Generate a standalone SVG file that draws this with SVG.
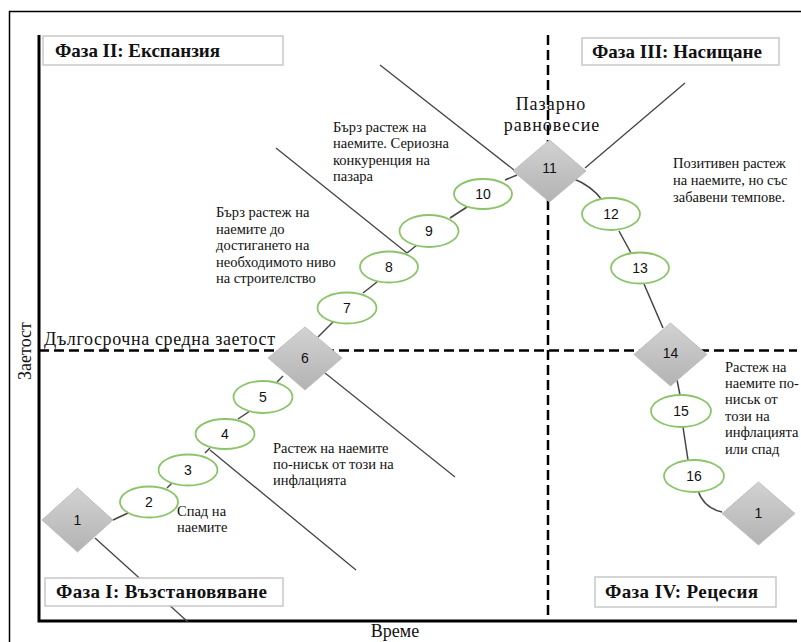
<svg xmlns="http://www.w3.org/2000/svg" width="801" height="642" viewBox="0 0 801 642">
<defs>
<linearGradient id="dg" x1="0" y1="0" x2="0" y2="1">
<stop offset="0" stop-color="#d2d2d2"/>
<stop offset="1" stop-color="#b3b3b3"/>
</linearGradient>
<style>
.frame{fill:none;stroke:#000;stroke-width:1.5}
.axis{fill:none;stroke:#000;stroke-width:3}
.dash{fill:none;stroke:#000;stroke-width:2.5;stroke-dasharray:10 5}
.ln{fill:none;stroke:#444;stroke-width:1.3}
.cn{fill:none;stroke:#444;stroke-width:1.5}
.ell{fill:#fff;stroke:#8cc46a;stroke-width:1.8}
.dia{fill:url(#dg);stroke:#c0c0c0;stroke-width:1}
.num{font-family:"Liberation Sans",Arial,sans-serif;font-size:14px;fill:#111;text-anchor:middle}
.box{fill:#fff;stroke:#c8c8c8;stroke-width:1.5}
.ph{font-family:"Liberation Serif","Times New Roman",serif;font-size:19px;font-weight:bold;fill:#111}
.note{font-family:"Liberation Serif","Times New Roman",serif;font-size:14.5px;fill:#111}
.big{font-family:"Liberation Serif","Times New Roman",serif;font-size:18px;fill:#111}
</style>
</defs>
<rect width="801" height="642" fill="#fff"/>
<path class="frame" d="M9.5,650 V11.5 H812"/>
<g id="axes">
<path class="axis" d="M39,35 V621 H797"/>
<path class="dash" d="M39,350.5 H797"/>
<path class="dash" d="M548,35 V621"/>
<text class="big" x="44" y="345" textLength="231">Дългосрочна средна заетост</text>
<text class="big" x="0" y="0" font-size="17" transform="translate(31,351) rotate(-90)" text-anchor="middle">Заетост</text>
<text class="big" x="395" y="637" font-size="16" text-anchor="middle">Време</text>
</g>
<g id="connectors">
<path class="ln" d="M380,65 L514,170"/>
<path class="ln" d="M585,168 L685,83"/>
<path class="ln" d="M276,148 L407,253"/>
<path class="ln" d="M325,373 L455,477"/>
<path class="ln" d="M210,450 L356,570"/>
<path class="ln" d="M95,538 L188,622"/>
<path class="cn" d="M113,520 L128,513"/>
<path class="cn" d="M167,488 L173,482"/>
<path class="cn" d="M205,453 L210,448"/>
<path class="cn" d="M238,419 L250,411"/>
<path class="cn" d="M277,382 L283,376"/>
<path class="cn" d="M318,337 L333,322"/>
<path class="cn" d="M363,293 L377,282"/>
<path class="cn" d="M407,253 L417,245"/>
<path class="cn" d="M450,218 L467,207"/>
<path class="cn" d="M505,180 L517,175"/>
<path class="cn" d="M572,178 Q592,186 602,200"/>
<path class="cn" d="M619,231 L631,253"/>
<path class="cn" d="M644,284 L663,328"/>
<path class="cn" d="M677,380 L680,395"/>
<path class="cn" d="M683,427 L688,460"/>
<path class="cn" d="M698,491 Q704,508 722,512"/>
</g>
<g id="phase2"><rect class="box" x="43" y="36" width="240" height="29"/><text class="ph" x="55" y="57" textLength="165">Фаза II: Експанзия</text></g>
<g id="phase3"><rect class="box" x="582" y="38" width="197" height="27"/><text class="ph" x="592" y="58" textLength="170">Фаза III: Насищане</text></g>
<g id="phase1"><rect class="box" x="45" y="578" width="238" height="28"/><text class="ph" x="56" y="598" textLength="211">Фаза I: Възстановяване</text></g>
<g id="phase4"><rect class="box" x="595" y="577" width="181" height="30"/><text class="ph" x="605" y="598" textLength="153">Фаза IV: Рецесия</text></g>
<g id="n1a"><path class="dia" d="M77.5,488 L113,520 L77.5,552 L42,520 Z"/><text class="num" x="77.5" y="525">1</text></g>
<g id="n2"><ellipse class="ell" cx="149" cy="502" rx="29" ry="15.5"/><text class="num" x="149" y="507">2</text></g>
<g id="n3"><ellipse class="ell" cx="188" cy="470" rx="29.5" ry="15.5"/><text class="num" x="188" y="475">3</text></g>
<g id="n4"><ellipse class="ell" cx="225" cy="434" rx="29.5" ry="15"/><text class="num" x="225" y="439">4</text></g>
<g id="n5"><ellipse class="ell" cx="263" cy="397" rx="29.5" ry="16"/><text class="num" x="263" y="402">5</text></g>
<g id="n6"><path class="dia" d="M305,327 L342,358 L305,390 L268,358 Z"/><text class="num" x="305" y="363">6</text></g>
<g id="n7"><ellipse class="ell" cx="347" cy="308" rx="29.5" ry="15.5"/><text class="num" x="347" y="313">7</text></g>
<g id="n8"><ellipse class="ell" cx="389" cy="267" rx="29" ry="15.5"/><text class="num" x="389" y="272">8</text></g>
<g id="n9"><ellipse class="ell" cx="429" cy="231" rx="29.5" ry="16"/><text class="num" x="429" y="236">9</text></g>
<g id="n10"><ellipse class="ell" cx="483" cy="194" rx="29" ry="15"/><text class="num" x="483" y="199">10</text></g>
<g id="n11"><path class="dia" d="M549.5,140 L586,171 L549.5,202 L513,171 Z"/><text class="num" x="549.5" y="173">11</text></g>
<g id="n12"><ellipse class="ell" cx="611" cy="214" rx="29" ry="16"/><text class="num" x="611" y="219">12</text></g>
<g id="n13"><ellipse class="ell" cx="640" cy="268" rx="29" ry="15.5"/><text class="num" x="640" y="273">13</text></g>
<g id="n14"><path class="dia" d="M670.5,323 L707,354.5 L670.5,386 L634,354.5 Z"/><text class="num" x="670.5" y="358">14</text></g>
<g id="n15"><ellipse class="ell" cx="681" cy="411" rx="30" ry="16"/><text class="num" x="681" y="416">15</text></g>
<g id="n16"><ellipse class="ell" cx="694" cy="476" rx="30" ry="16"/><text class="num" x="694" y="481">16</text></g>
<g id="n1b"><path class="dia" d="M758.5,482 L795,513.5 L758.5,545 L722,513.5 Z"/><text class="num" x="758.5" y="518">1</text></g>
<g id="labels">
<text class="big" x="551" y="110" text-anchor="middle" letter-spacing="1">Пазарно</text>
<text class="big" x="552" y="131" text-anchor="middle" letter-spacing="1">равновесие</text>
<text class="note" x="333"><tspan x="333" y="132">Бърз растеж  на</tspan><tspan x="333" y="148">наемите.  Сериозна</tspan><tspan x="333" y="165">конкуренция  на</tspan><tspan x="333" y="181">пазара</tspan></text>
<text class="note" x="216"><tspan x="216" y="217">Бърз растеж  на</tspan><tspan x="216" y="234">наемите   до</tspan><tspan x="216" y="250">достигането   на</tspan><tspan x="216" y="267">необходимото   ниво</tspan><tspan x="216" y="283">на строителство</tspan></text>
<text class="note" x="673"><tspan x="673" y="168">Позитивен  растеж</tspan><tspan x="673" y="185">на наемите,  но със</tspan><tspan x="673" y="202">забавени  темпове.</tspan></text>
<text class="note" x="725"><tspan x="725" y="372">Растеж  на</tspan><tspan x="725" y="388">наемите  по-</tspan><tspan x="725" y="404">ниськ  от</tspan><tspan x="725" y="421">този на</tspan><tspan x="725" y="437">инфлацията</tspan><tspan x="725" y="454">или  спад</tspan></text>
<text class="note" x="273"><tspan x="273" y="453">Растеж  на наемите</tspan><tspan x="273" y="469">по-ниськ  от този на</tspan><tspan x="273" y="485">инфлацията</tspan></text>
<text class="note" x="177" font-size="13.5"><tspan x="177" y="516">Спад на</tspan><tspan x="177" y="532">наемите</tspan></text>
</g>
</svg>
